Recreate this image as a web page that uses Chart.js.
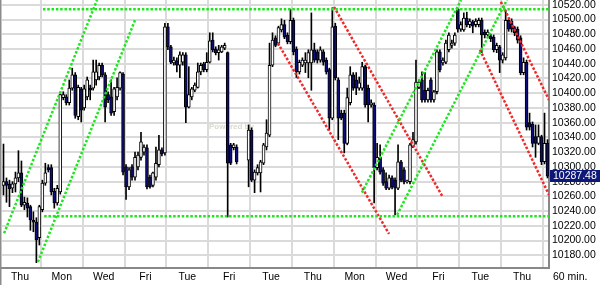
<!DOCTYPE html>
<html>
<head>
<meta charset="utf-8">
<script src="https://cdn.jsdelivr.net/npm/chart.js@4.4.1/dist/chart.umd.min.js"></script>
<style>
  html, body { margin: 0; padding: 0; background: #fff; }
  #wrap { width: 600px; height: 285px; }
</style>
</head>
<body>
<div id="wrap"><canvas id="chart" width="600" height="285"></canvas></div>
<script>
// x axis: one slot per 60 min bar, day labels every 14 bars
const dayLabels = ["Thu", "Mon", "Wed", "Fri", "Tue", "Fri", "Tue", "Thu", "Mon", "Wed", "Fri", "Tue", "Thu"];
const dayTickPos = [5.5, 19.5, 33.5, 47.5, 61.5, 75.5, 89.5, 103.5, 117.5, 131.5, 145.5, 159.5, 173.5];
const priceTicks = [10180, 10200, 10220, 10240, 10260, 10280, 10300, 10320, 10340, 10360, 10380,
                    10400, 10420, 10440, 10460, 10480, 10500, 10520];
const lastPrice = 10287.48;

// OHLC (null = no bar)
const opens = [10275,10280,10277,10271,10277,10285,10292,10248,10251,10246,
 10228,10225,10204,10242,10278,10299,10299,10267,10251,10266,
 10394,10395,10387,10407,10425,10368,10406,10380,10395,10407,
 10407,10418,10422,10438,10425,10398,10395,10375,10395,10407,
 10426,10300,10273,10300,10286,10300,10313,10320,10326,10286,
 10275,10286,10303,10323,10319,10490,10463,10441,10444,10438,
 10442,10452,10381,10395,10404,10408,10429,10440,10432,10442,
 10472,10460,10455,10456,10461,10455,10330,10326,10327,null,
 null,null,10309,10350,10282,10292,10292,10305,10327,10343,
 10438,10475,10468,10486,10493,10479,10470,10499,10460,10429,
 10438,10441,10441,10441,10459,10456,10445,10456,10445,10432,
 10366,10491,10418,10373,10373,10332,10387,10425,10418,10407,
 10407,10436,10407,10384,10384,10299,10313,10296,10280,10271,
 10285,10282,10271,10307,10296,10280,10280,10327,10334,10408,
 10418,10404,10391,10418,10391,10402,10456,10441,10442,10459,
 10465,10468,10514,10487,10486,10502,10493,10497,10493,10493,
 10499,10483,10479,10478,10476,10459,10463,10445,10448,10499,
 10498,10489,10487,10475,10428,10442,10360,10358,10341,10332,
 10341,10307,10332];

const highs = [10331,10285,10282,10280,10293,10322,10308,10259,10258,10248,
 10239,10231,10248,10282,10305,10303,10303,10271,10275,10399,
 10402,10398,10418,10434,10428,10411,10408,10411,10422,10411,
 10445,10445,10441,10441,10428,10402,10418,10408,10421,10429,
 10428,10303,10299,10303,10320,10320,10347,10330,10330,10289,
 10293,10327,10343,10326,10495,10495,10465,10449,10448,10456,
 10455,10455,10436,10408,10414,10441,10441,10442,10455,10482,
 10482,10463,10465,10465,10468,10456,10332,10332,10330,null,
 null,null,10357,10353,10296,10303,10309,10332,10364,10468,
 10482,10478,10491,10501,10499,10482,10514,10502,10463,10445,
 10448,10455,10459,10509,10468,10459,10463,10459,10448,10434,
 10516,10495,10421,10377,10377,10407,10436,10428,10428,10422,
 10442,10438,10411,10391,10387,10332,10330,10299,10292,10289,
 10288,10285,10330,10309,10299,10282,10332,10347,10445,10418,
 10429,10428,10407,10421,10404,10459,10459,10448,10472,10482,
 10472,10482,10515,10497,10509,10510,10501,10499,10501,10502,
 10502,10486,10486,10480,10479,10468,10465,10455,10513,10502,
 10501,10491,10490,10478,10448,10445,10373,10361,10357,10357,
 10343,10373,10337];

const lows = [10262,10252,10246,10265,10266,10280,10246,10242,10232,10214,
 10212,10170,10194,10239,10275,10293,10262,10244,10248,10263,
 10391,10384,10384,10404,10366,10364,10361,10377,10391,10391,
 10404,10411,10418,10422,10361,10387,10370,10370,10391,10404,
 10289,10256,10269,10282,10282,10296,10309,10316,10270,10271,
 10273,10282,10300,10315,10316,10459,10440,10438,10429,10421,
 10438,10360,10380,10391,10402,10407,10425,10429,10429,10441,
 10456,10452,10445,10455,10459,10232,10303,10323,10304,null,
 null,null,10273,10280,10265,10289,10266,10303,10323,10341,
 10436,10463,10465,10483,10474,10467,10467,10452,10421,10426,
 10436,10428,10421,10404,10442,10441,10442,10438,10426,10350,
 10364,10418,10337,10364,10319,10330,10384,10404,10398,10404,
 10404,10381,10361,10381,10251,10296,10290,10275,10269,10269,
 10270,10235,10269,10280,10277,10278,10277,10326,10331,10406,
 10388,10388,10388,10388,10388,10399,10429,10438,10440,10456,
 10461,10465,10483,10484,10484,10490,10489,10482,10490,10490,
 10455,10475,10476,10470,10456,10455,10428,10441,10445,10484,
 10483,10478,10468,10425,10425,10350,10350,10327,10313,10330,
 10303,10304,10285];

const closes = [10280,10275,10270,10277,10285,10292,10248,10252,10244,10228,
 10225,10201,10246,10278,10292,10296,10266,10251,10271,10398,
 10398,10387,10407,10425,10370,10408,10377,10406,10418,10404,
 10429,10429,10438,10425,10381,10391,10373,10406,10408,10428,
 10293,10273,10296,10286,10313,10316,10334,10327,10273,10273,
 10292,10305,10323,10318,10490,10463,10442,10445,10438,10452,
 10452,10381,10398,10406,10411,10429,10438,10432,10442,10471,
 10459,10455,10459,10463,10465,10305,10305,10330,10307,null,
 null,null,10350,10282,10293,10299,10307,10330,10346,10438,
 10472,10465,10489,10493,10476,10470,10499,10456,10429,10442,
 10445,10445,10455,10459,10445,10445,10459,10442,10429,10366,
 10490,10421,10366,10366,10332,10394,10425,10407,10407,10414,
 10436,10384,10384,10387,10299,10313,10293,10278,10271,10285,
 10273,10271,10307,10282,10280,10281,10330,10337,10415,10415,
 10391,10391,10404,10391,10402,10456,10432,10445,10468,10479,
 10468,10479,10487,10493,10502,10493,10498,10491,10498,10499,
 10479,10479,10483,10474,10459,10465,10445,10452,10499,10487,
 10487,10482,10472,10428,10442,10354,10354,10332,10332,10341,
 10307,10332,10287.48];

// trend lines: [bar index, price] end points
const topLine = [[13.2, 10514], [182.5, 10514]];
const bottomLine = [[13.6, 10233], [182.5, 10233]];
const upChannel1a = [[0.2, 10210], [31.3, 10526.5]];
const upChannel1b = [[11.5, 10171], [44.0, 10499]];
const downLine1 = [[91.8, 10468], [129.0, 10209]];
const downLine2 = [[110.6, 10517], [147.0, 10259]];
const upChannel2a = [[119.9, 10265], [153.1, 10526.5]];
const upChannel2b = [[131.7, 10235], [168.4, 10526.5]];
const downLine3 = [[166.4, 10524], [182.5, 10391]];
const downLine4 = [[159.4, 10459], [182.5, 10262]];

const GREEN = "#1ee61e";
const RED = "#f02828";
const NAVY = "#0d0d7a";
const FONT = '"Liberation Sans", Arial, sans-serif';

const barIdx = opens.map((_, i) => i).filter(i => opens[i] !== null);
const wickData = barIdx.map(i => ({ x: i, y: [lows[i], highs[i]] }));
const bodyData = barIdx.map(i => ({ x: i, y: [opens[i], closes[i]] }));
const bodyColors = barIdx.map(i => closes[i] >= opens[i] ? "#ffffff" : NAVY);

function lineSet(pts, color) {
    return {
        type: "line",
        data: pts.map(p => ({ x: p[0], y: p[1] })),
        borderColor: color,
        borderWidth: 2.5,
        borderDash: [2.5, 1.8],
        pointRadius: 0,
        fill: false,
        order: 0
    };
}

const extras = {
    id: "extras",
    beforeDatasetsDraw(chart) {
        // faint "Powered by" watermark
        const ctx = chart.ctx;
        ctx.save();
        ctx.fillStyle = "#d6dccb";
        ctx.font = "bold 8px " + FONT;
        ctx.textBaseline = "middle";
        ctx.fillText("Powered by", 209, 127);
        ctx.restore();
    },
    afterDraw(chart) {
        const ctx = chart.ctx;
        const area = chart.chartArea;
        const y = chart.scales.y.getPixelForValue(lastPrice);
        ctx.save();
        // left frame line
        ctx.fillStyle = "#8c8c8c";
        ctx.fillRect(0, 0, 1.5, 285);
        // last price box
        ctx.fillStyle = "#0e1878";
        ctx.fillRect(area.right + 1, Math.round(y) - 6, 51, 12);
        ctx.fillStyle = "#ffffff";
        ctx.font = "10.5px " + FONT;
        ctx.textBaseline = "middle";
        ctx.fillText(lastPrice.toFixed(2), area.right + 4, Math.round(y));
        // interval text
        ctx.fillStyle = "#000000";
        ctx.fillText("60 min.", area.right + 4, 277);
        ctx.restore();
    }
};

new Chart(document.getElementById("chart"), {
    type: "bar",
    data: {
        datasets: [
            {
                data: bodyData,
                backgroundColor: bodyColors,
                borderColor: "#000000",
                borderWidth: 1,
                borderSkipped: false,
                barThickness: 3,
                grouped: false,
                order: 1
            },
            {
                data: wickData,
                backgroundColor: "#000000",
                borderWidth: 0,
                barThickness: 1,
                grouped: false,
                order: 2
            },
            lineSet(topLine, GREEN),
            lineSet(bottomLine, GREEN),
            lineSet(upChannel1a, GREEN),
            lineSet(upChannel1b, GREEN),
            lineSet(upChannel2a, GREEN),
            lineSet(upChannel2b, GREEN),
            lineSet(downLine1, RED),
            lineSet(downLine2, RED),
            lineSet(downLine3, RED),
            lineSet(downLine4, RED)
        ]
    },
    options: {
        responsive: false,
        animation: false,
        layout: { padding: { left: 2, top: 0, right: 0, bottom: 0 } },
        plugins: { legend: { display: false }, tooltip: { enabled: false } },
        scales: {
            x: {
                type: "linear",
                min: -0.5,
                max: 182.5,
                offset: false,
                afterBuildTicks: s => { s.ticks = dayTickPos.map(v => ({ value: v })); },
                afterFit: s => { s.height = 17; s.paddingLeft = 0; s.paddingRight = 0; },
                ticks: {
                    callback: (v, i) => dayLabels[i],
                    autoSkip: false,
                    maxRotation: 0,
                    color: "#000",
                    padding: 3,
                    font: { family: FONT, size: 10.5 }
                },
                grid: { color: "#dadada", lineWidth: 2, drawTicks: false },
                border: { color: "#888888", width: 2 }
            },
            y: {
                position: "right",
                min: 10162.8,
                max: 10526.5,
                afterBuildTicks: s => { s.ticks = priceTicks.map(v => ({ value: v })); },
                afterFit: s => { s.width = 51; s.paddingTop = 0; s.paddingBottom = 0; },
                ticks: {
                    callback: v => v.toFixed(2),
                    autoSkip: false,
                    color: "#000",
                    padding: 3,
                    font: { family: FONT, size: 10.5 }
                },
                grid: { color: "#dadada", lineWidth: 2, drawTicks: false },
                border: { color: "#888888", width: 2 }
            }
        }
    },
    plugins: [extras]
});
</script>
</body>
</html>
